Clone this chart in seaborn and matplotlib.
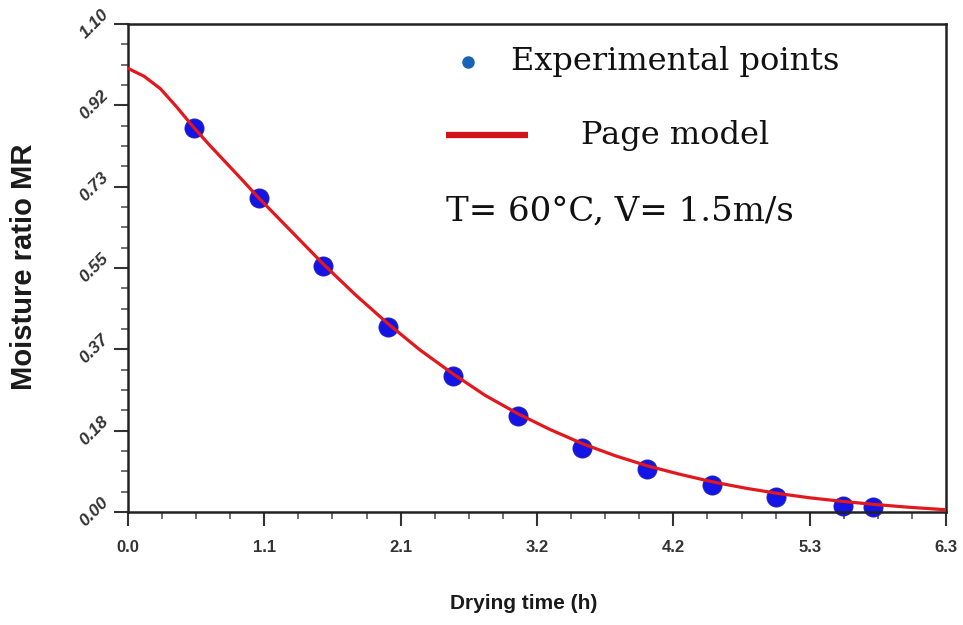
import matplotlib
matplotlib.use("Agg")
import matplotlib.pyplot as plt
from matplotlib.ticker import AutoMinorLocator
import seaborn as sns
import pandas as pd

# Experimental points (drying time h, moisture ratio)
exp_time = [0.51, 1.01, 1.50, 2.00, 2.50, 3.00, 3.50, 4.00, 4.50, 4.99, 5.51, 5.74]
exp_mr = [0.866, 0.708, 0.555, 0.417, 0.307, 0.216, 0.144, 0.097, 0.061, 0.034, 0.0135, 0.011]

# Page model curve
model_time = [0.0, 0.125, 0.25, 0.375, 0.5, 0.625, 0.75, 0.875, 1.0, 1.25, 1.5, 1.75,
              2.0, 2.25, 2.5, 2.75, 3.0, 3.25, 3.5, 3.75, 4.0, 4.25, 4.5, 4.75, 5.0,
              5.25, 5.5, 5.75, 6.0, 6.3]
model_mr = [1.000, 0.982, 0.954, 0.913, 0.869, 0.828, 0.789, 0.750, 0.710, 0.635,
            0.560, 0.490, 0.425, 0.365, 0.312, 0.263, 0.222, 0.186, 0.154, 0.127,
            0.104, 0.085, 0.068, 0.054, 0.042, 0.032, 0.024, 0.017, 0.011, 0.005]

x_ticks = [0.0, 1.05, 2.1, 3.15, 4.2, 5.25, 6.3]
x_tick_labels = ["0.0", "1.1", "2.1", "3.2", "4.2", "5.3", "6.3"]
y_ticks = [0.0, 1.1 / 6, 2.2 / 6, 3.3 / 6, 4.4 / 6, 5.5 / 6, 1.1]
y_tick_labels = ["0.00", "0.18", "0.37", "0.55", "0.73", "0.92", "1.10"]

sns.set_style("ticks")
plt.rcParams["font.family"] = ["Liberation Sans", "DejaVu Sans"]

fig = plt.figure(figsize=(9.63, 6.25), dpi=100)
ax = fig.add_axes([0.1329, 0.1808, 0.8495, 0.7808])

df_exp = pd.DataFrame({"t": exp_time, "mr": exp_mr})
df_mod = pd.DataFrame({"t": model_time, "mr": model_mr})

sns.lineplot(data=df_mod, x="t", y="mr", ax=ax, color="#e3171c", linewidth=2.3,
             zorder=3, estimator=None, sort=False)
sns.scatterplot(data=df_exp, x="t", y="mr", ax=ax, color="#1414e6", s=190,
                edgecolor="#2020b0", linewidth=0.6, zorder=2, clip_on=False)

ax.set_xlim(0, 6.3)
ax.set_ylim(0, 1.1)
ax.set_xticks(x_ticks)
ax.set_xticklabels(x_tick_labels, fontsize=12, fontweight="bold", color="#333333")
ax.set_yticks(y_ticks)
ax.set_yticklabels(y_tick_labels, fontsize=12.5, fontweight="bold", style="italic",
                   rotation=45, color="#333333", va="center", ha="right")
ax.xaxis.set_minor_locator(AutoMinorLocator(4))
ax.yaxis.set_minor_locator(AutoMinorLocator(4))
ax.tick_params(which="major", length=10, width=1.5, color="#333333")
ax.tick_params(which="minor", length=5, width=1.2, color="#555555")
ax.tick_params(axis="x", pad=10)
ax.tick_params(axis="y", pad=2)

for sp in ax.spines.values():
    sp.set_visible(True)
    sp.set_color("#222222")
    sp.set_linewidth(1.8)

ax.set_xlabel("Drying time (h)", fontsize=15, fontweight="bold", color="#1a1a1a")
ax.xaxis.set_label_coords(0.484, -0.168)
ax.set_ylabel("Moisture ratio MR", fontsize=21, fontweight="bold", color="#1a1a1a")
ax.yaxis.set_label_coords(-0.110, 0.502)

# Legend-like annotations
serif = ["DejaVu Serif"]
ax.plot([2.62], [1.015], marker="o", color="#1a62b8", markersize=8, linestyle="none")
ax.text(2.95, 1.015, "Experimental points", fontsize=23, family=serif,
        va="center", ha="left", color="#111111")
ax.plot([2.45, 3.08], [0.849, 0.849], color="#d4121a", linewidth=4.5,
        solid_capstyle="butt")
ax.text(3.49, 0.849, "Page model", fontsize=23, family=serif,
        va="center", ha="left", color="#111111")
ax.text(2.45, 0.677, "T= 60°C, V= 1.5m/s", fontsize=24.5, family=serif,
        va="center", ha="left", color="#111111")

fig.savefig("out.png", dpi=100)
